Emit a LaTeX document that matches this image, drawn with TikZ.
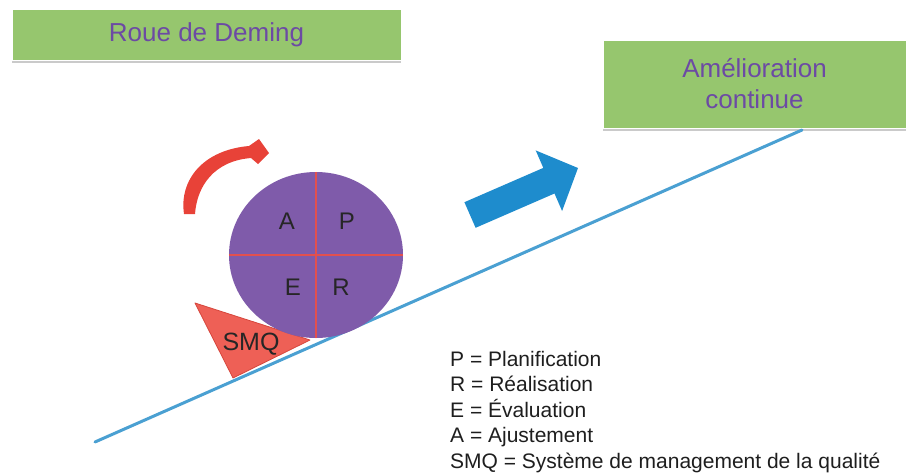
\documentclass[tikz,border=0pt]{standalone}
\usepackage{fontspec}
\setmainfont{Liberation Sans}
\usetikzlibrary{shapes.geometric,shadows}

\definecolor{boxgreen}{RGB}{150,198,110}
\definecolor{titlepurple}{RGB}{108,74,164}
\definecolor{wheelpurple}{RGB}{127,91,170}
\definecolor{splitred}{RGB}{226,80,78}
\definecolor{arrowred}{RGB}{232,66,56}
\definecolor{smqred}{RGB}{238,96,86}
\definecolor{smqedge}{RGB}{214,70,60}
\definecolor{slopeblue}{RGB}{74,160,210}
\definecolor{bigblue}{RGB}{30,140,205}
\definecolor{legendtext}{RGB}{30,30,30}

\tikzset{
  titlebox/.style={draw=white, line width=1pt, fill=boxgreen, text=titlepurple,
    inner sep=0pt, align=center,
    font=\fontsize{26}{31}\selectfont,
    drop shadow={shadow xshift=0pt, shadow yshift=-3pt, opacity=0.35, fill=black!60}},
  wheelletter/.style={text=black!85, font=\fontsize{24}{24}\selectfont, inner sep=0pt},
  splitline/.style={draw=splitred, line width=2pt},
}

\begin{document}
\begin{tikzpicture}[x=1pt, y=-1pt]
  \useasboundingbox (0,0) rectangle (908,472);

  % headings
  \node[titlebox, minimum width=389pt, minimum height=51pt] (deming) at (206.5,34.5) {Roue de Deming};
  \node[titlebox, minimum width=303pt, minimum height=88pt] (amelio) at (754.5,84) {Amélioration\\continue};

  % the slope
  \coordinate (slopeLow) at (95,442);
  \coordinate (slopeHigh) at (802,130);
  \draw[slopeblue, line width=3pt, line cap=round] (slopeLow) -- (slopeHigh);

  % wedge holding the wheel
  \path[fill=smqred, draw=smqedge, line width=0.8pt, line join=round]
    (195,303) -- (310,340) -- (233,378) -- cycle;
  \node[text=black!85, font=\fontsize{25}{25}\selectfont, inner sep=0pt] (smq) at (251,344) {SMQ};

  % the wheel
  \node[ellipse, fill=wheelpurple, minimum width=174pt, minimum height=166pt, inner sep=0pt] (wheel) at (316,255) {};
  \draw[splitline] (wheel.north) -- (wheel.south);
  \draw[splitline] (wheel.west) -- (wheel.east);
  \node[wheelletter] (lA) at (287,221) {A};
  \node[wheelletter] (lP) at (347,221) {P};
  \node[wheelletter] (lE) at (293,287) {E};
  \node[wheelletter] (lR) at (341,287) {R};

  % rotation arrow
  \path[fill=arrowred]
    (184,214) .. controls (179,180) and (203,150) .. (249,146)
    -- (259,139) -- (269,153) -- (258,164) -- (251,158)
    .. controls (214,161) and (197,186) .. (195,214) -- cycle;

  % progress arrow
  \path[fill=bigblue]
    (464.4,202.2) -- (543.3,167.9) -- (535.7,150.4) -- (578,168)
    -- (562.1,211) -- (554.5,193.5) -- (475.6,227.8) -- cycle;

  % legend (anchored on the baseline of its last line)
  \node[anchor=base west, align=left, text=legendtext, inner sep=0pt,
        font=\fontsize{21}{25.5}\selectfont] (legend) at (450,468)
    {P = Planification\\
     R = Réalisation\\
     E = Évaluation\\
     A = Ajustement\\
     SMQ = Système de management de la qualité};
\end{tikzpicture}
\end{document}
